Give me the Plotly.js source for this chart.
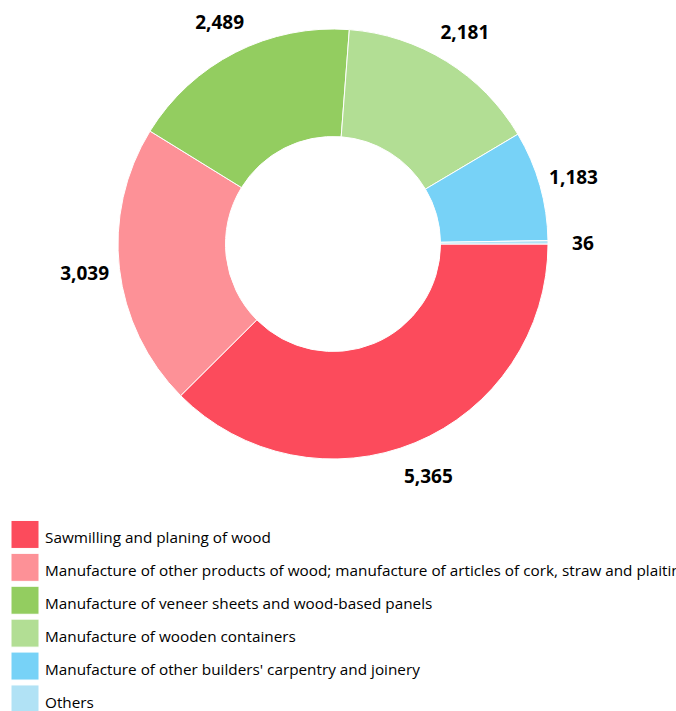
<!DOCTYPE html>
<html>
<head>
<meta charset="utf-8">
<script src="https://cdn.plot.ly/plotly-3.0.1.min.js"></script>
<style>
  html, body { margin: 0; padding: 0; background: #fff; }
  #chart { width: 676px; height: 711px; }
</style>
</head>
<body>
<div id="chart"></div>
<script>
const categories = [
  "Sawmilling and planing of wood",
  "Manufacture of other products of wood; manufacture of articles of cork, straw and plaiting materials",
  "Manufacture of veneer sheets and wood-based panels",
  "Manufacture of wooden containers",
  "Manufacture of other builders' carpentry and joinery",
  "Others"
];
const values = [5365, 3039, 2489, 2181, 1183, 36];
const colors = ["#fc4b5c", "#fd9197", "#93cd60", "#b2de94", "#77d2f7", "#b1e2f5"];

const W = 676, H = 711;
const cx = 333, cy = 244, R = 215, labelR = 250, textDrop = 3;

// derived from the data: legend labels and the mid-angle of every slice
// (angle measured clockwise from 3 o'clock, the pie's start)
const legendLabels = categories.map(c => '<span style="font-size:15.3px">' + c + '</span>');
const total = values.reduce((a, b) => a + b, 0);
let cum = 0;
const midAngle = values.map(v => { const t = (cum + v / 2) / total * 2 * Math.PI; cum += v; return t; });
const valueText = values.map(v => v.toLocaleString('en-US'));
const labelX = midAngle.map(a => labelR * Math.cos(a));
const labelY = midAngle.map(a => -labelR * Math.sin(a) - textDrop);

const dom = { x: [0, (2 * cx) / W], y: [(H - cy - R) / H, (H - cy + R) / H] };

const data = [{
  type: 'pie',
  labels: legendLabels,
  values: values,
  hole: 0.5,
  sort: false,
  direction: 'clockwise',
  rotation: 90,
  marker: { colors: colors, line: { color: '#ffffff', width: 1 } },
  textinfo: 'none',
  hoverinfo: 'value',
  domain: dom,
  automargin: false
}, {
  type: 'scatter',
  x: labelX,
  y: labelY,
  mode: 'text',
  text: valueText,
  textposition: 'middle center',
  textfont: { family: 'Open Sans', size: 19, color: '#000000', weight: 'bold' },
  cliponaxis: false,
  showlegend: false,
  hoverinfo: 'skip'
}];

const layout = {
  width: W, height: H,
  margin: { l: 0, r: 0, t: 0, b: 0, autoexpand: false },
  paper_bgcolor: '#ffffff',
  plot_bgcolor: 'rgba(0,0,0,0)',
  font: { family: 'Open Sans', color: '#000000' },
  showlegend: true,
  xaxis: { visible: false, range: [-cx, W - cx], fixedrange: true },
  yaxis: { visible: false, range: [-(H - cy), cy], fixedrange: true },
  legend: {
    orientation: 'v',
    xref: 'container', yref: 'container',
    x: 5 / W, xanchor: 'left',
    y: 1 - 513 / H, yanchor: 'top',
    font: { family: 'Open Sans', size: 23, color: '#000000' },
    bgcolor: 'rgba(0,0,0,0)',
    borderwidth: 0
  }
};

Plotly.newPlot('chart', data, layout, { displayModeBar: false, staticPlot: true }).then(function () {
  document.querySelectorAll('path.legendpie').forEach(function (p) {
    p.setAttribute('d', 'M14,14H-14V-14H14Z');
  });
});
</script>
</body>
</html>
